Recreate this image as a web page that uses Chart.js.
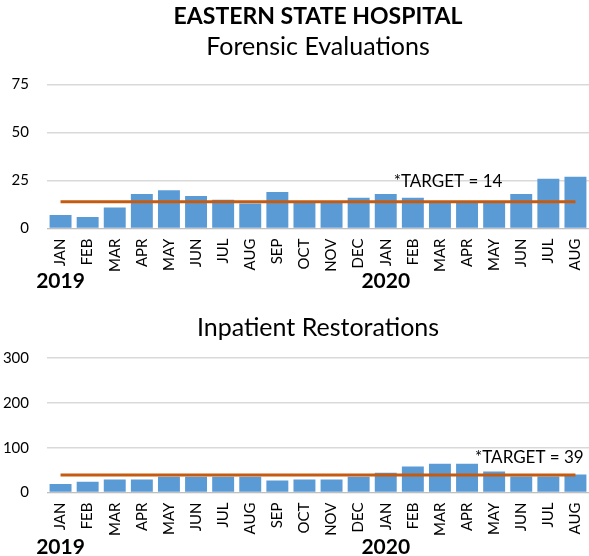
<!DOCTYPE html>
<html>
<head>
<meta charset="utf-8">
<script src="https://cdn.jsdelivr.net/npm/chart.js@4/dist/chart.umd.min.js"></script>
<style>
  html, body { margin: 0; padding: 0; background: #fff; overflow: hidden; }
  #box1 { position: absolute; left: 0; top: 0; width: 589px; height: 300px; }
  #box2 { position: absolute; left: 0; top: 300px; width: 589px; height: 256px; }
</style>
</head>
<body>
<div id="box1"><canvas id="forensicChart"></canvas></div>
<div id="box2"><canvas id="inpatientChart"></canvas></div>
<script>
// Months Jan 2019 - Aug 2020
var months = ["JAN", "FEB", "MAR", "APR", "MAY", "JUN", "JUL", "AUG", "SEP", "OCT", "NOV", "DEC",
              "JAN", "FEB", "MAR", "APR", "MAY", "JUN", "JUL", "AUG"];
var years = ["2019", "2020"];
var yearStarts = [0, 12];

var forensicValues = [7, 6, 11, 18, 20, 17, 15, 13, 19, 14, 14, 16, 18, 16, 14, 14, 14, 18, 26, 27];
var forensicTarget = [14, 14, 14, 14, 14, 14, 14, 14, 14, 14, 14, 14, 14, 14, 14, 14, 14, 14, 14, 14];
var forensicTicks = [0, 25, 50, 75];

var inpatientValues = [19, 24, 29, 29, 35, 35, 35, 35, 27, 29, 29, 35, 44, 58, 64, 64, 47, 36, 36, 40];
var inpatientTarget = [39, 39, 39, 39, 39, 39, 39, 39, 39, 39, 39, 39, 39, 39, 39, 39, 39, 39, 39, 39];
var inpatientTicks = [0, 100, 200, 300];

var FONT = "Lato, 'Open Sans', sans-serif";
var barColor = "#5B9BD5";
var lineColor = "#C55A11";

// year captions under the month labels
var yearMarks = {
  id: "yearMarks",
  afterDraw: function(chart, args, opts) {
    var x = chart.scales.x;
    var ctx = chart.ctx;
    ctx.save();
    ctx.font = "bold 21px " + FONT;
    ctx.fillStyle = "#000";
    ctx.textAlign = "center";
    ctx.textBaseline = "alphabetic";
    for (var i = 0; i < years.length; i++) {
      ctx.fillText(years[i], x.getPixelForValue(yearStarts[i]), opts.y);
    }
    ctx.restore();
  }
};

// "*TARGET = n" note above the target line
var targetNote = {
  id: "targetNote",
  afterDatasetsDraw: function(chart, args, opts) {
    var pt = chart.getDatasetMeta(1).data[opts.index];
    var ctx = chart.ctx;
    ctx.save();
    ctx.font = "17px " + FONT;
    ctx.fillStyle = "#000";
    ctx.textAlign = "left";
    ctx.textBaseline = "alphabetic";
    ctx.fillText(opts.text, pt.x + opts.dx, pt.y - opts.dy);
    ctx.restore();
  }
};

function makeChart(canvasId, subtitle, values, target, ticks, withTitle, note, yearY, pad, subPad) {
  var ctx = document.getElementById(canvasId).getContext("2d");
  return new Chart(ctx, {
    type: "bar",
    data: {
      labels: months,
      datasets: [
        {
          type: "bar",
          data: values,
          backgroundColor: barColor,
          borderWidth: 0,
          barPercentage: 0.81,
          categoryPercentage: 1.0,
          order: 2
        },
        {
          type: "line",
          data: target,
          borderColor: lineColor,
          borderWidth: 3,
          pointRadius: 0,
          fill: false,
          order: 1
        }
      ]
    },
    options: {
      responsive: true,
      maintainAspectRatio: false,
      animation: false,
      layout: { padding: pad },
      plugins: {
        legend: { display: false },
        tooltip: { enabled: false },
        title: {
          display: withTitle,
          text: "EASTERN STATE HOSPITAL",
          fullSize: false,
          color: "#000",
          font: { family: FONT, size: 23, weight: "bold" },
          padding: { top: 0, bottom: 1 }
        },
        subtitle: {
          display: true,
          text: subtitle,
          fullSize: false,
          color: "#000",
          font: { family: FONT, size: 25, weight: "normal" },
          padding: { top: 0, bottom: subPad }
        },
        yearMarks: { y: yearY },
        targetNote: note
      },
      scales: {
        x: {
          // let the last bar run to the page edge like the original
          afterFit: function(scale) { scale.paddingRight = -3; },
          grid: { display: false },
          border: { display: true, color: "#BFBFBF", width: 1 },
          ticks: {
            autoSkip: false,
            minRotation: 90,
            maxRotation: 90,
            padding: 2,
            color: "#000",
            font: { family: FONT, size: 15 }
          }
        },
        y: {
          min: ticks[0],
          max: ticks[ticks.length - 1],
          afterBuildTicks: function(scale) {
            scale.ticks = ticks.map(function(v) { return { value: v }; });
          },
          afterFit: function(scale) { scale.width = 47; },
          grid: { color: "#D9D9D9", lineWidth: 1.5, drawTicks: false },
          border: { display: false },
          ticks: {
            padding: 18,
            color: "#000",
            font: { family: FONT, size: 15 }
          }
        }
      }
    },
    plugins: [yearMarks, targetNote]
  });
}

makeChart("forensicChart", "Forensic Evaluations", forensicValues, forensicTarget, forensicTicks, true,
  { index: 12, dx: 8, dy: 15, text: "*TARGET = 14" }, 288,
  { top: 3, right: -3, bottom: 26, left: 0 }, 23);

makeChart("inpatientChart", "Inpatient Restorations", inpatientValues, inpatientTarget, inpatientTicks, false,
  { index: 15, dx: 8, dy: 12, text: "*TARGET = 39" }, 254,
  { top: 13, right: -3, bottom: 18, left: 0 }, 15);
</script>
</body>
</html>
